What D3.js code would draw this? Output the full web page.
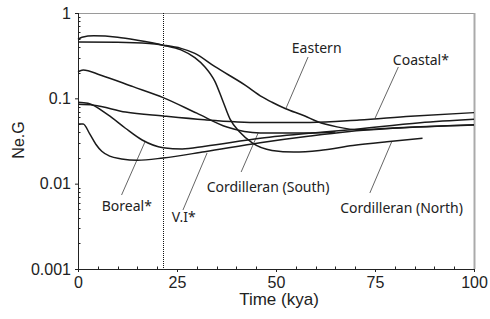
<!DOCTYPE html>
<html>
<head>
<meta charset="utf-8">
<script src="https://cdn.jsdelivr.net/npm/d3@7"></script>
<style>
    body { margin: 0; background: #fff; }
    .tick-label { font-family: 'Liberation Sans', Arial, sans-serif; font-size: 16px; fill: #222; }
    .axis-title { font-family: 'Liberation Sans', Arial, sans-serif; fill: #222; }
    .series-label { font-family: 'Noto Sans', sans-serif; font-size: 14px; fill: #222; }
</style>
</head>
<body>
<div id="ne-chart"></div>
<script>
// data: [time kya, Ne.G]
var timeTicks = [0, 25, 50, 75, 100];
var timeMinorTicks = d3.range(0, 101, 5);
var neTicks = [0.001, 0.01, 0.1, 1];
var lgmTime = 21.5;

var eastern = [[0, 0.457], [10, 0.455], [18, 0.44], [21.5, 0.42], [26, 0.385], [29.5, 0.337],
    [34.6, 0.235], [42.2, 0.143], [46.5, 0.104], [49, 0.09], [52.3, 0.076], [57.3, 0.062],
    [60.4, 0.0535], [65.4, 0.0463], [71, 0.0428], [79.5, 0.045], [90, 0.047], [100, 0.049]];

var cordNorth = [[0, 0.49], [1, 0.52], [4, 0.54], [10, 0.52], [15, 0.48], [21.5, 0.42], [26, 0.37],
    [29.5, 0.30], [32, 0.235], [34.6, 0.157], [36.5, 0.095], [38.4, 0.057], [40.9, 0.040],
    [44, 0.030], [49, 0.0245], [54.5, 0.0235], [61, 0.0245], [69.4, 0.028], [78, 0.031], [87, 0.034]];

var cordSouth = [[0, 0.205], [1.3, 0.215], [5.6, 0.188], [13.9, 0.137], [21.5, 0.102],
    [30, 0.067], [37.6, 0.0461], [46, 0.0393], [58.6, 0.0393], [65, 0.0403]];

var coastal = [[0, 0.085], [4, 0.083], [12, 0.069], [21.5, 0.062], [32, 0.056], [46, 0.052],
    [58.6, 0.052], [71, 0.0557], [84, 0.0617], [100, 0.068]];

var boreal = [[0, 0.0898], [2.5, 0.0875], [7.6, 0.0638], [11.9, 0.0449], [16.2, 0.0325], [21.5, 0.0264],
    [26.3, 0.0255], [32.1, 0.0275], [46, 0.034], [58.6, 0.039], [68, 0.0425], [86.4, 0.0518], [100, 0.0568]];

var vancouverIsland = [[0, 0.050], [1.3, 0.050], [3, 0.038], [4.5, 0.029], [6, 0.024], [8, 0.021],
    [11, 0.0195], [15, 0.0188], [21.5, 0.0200], [32, 0.0237], [46, 0.0302], [58.6, 0.0362],
    [68, 0.0406], [79.5, 0.0445], [100, 0.0487]];

var seriesList = [eastern, cordNorth, cordSouth, coastal, boreal, vancouverIsland];

var labelNames = ['Eastern', 'Coastal*', 'Boreal*', 'V.I*', 'Cordilleran (South)', 'Cordilleran (North)'];

function buildChart(containerId) {
    // size globals
    var width = 490;
    var height = 319;

    var margin = {
        top: 13,
        right: 16,
        bottom: 50,
        left: 78
    };

    var innerWidth = width - margin.left - margin.right;
    var innerHeight = height - margin.top - margin.bottom;

    var svg = d3
        .select(containerId)
        .append('svg')
        .attr('width', width)
        .attr('height', height);

    var g = svg
        .append('g')
        .attr('transform', 'translate(' + margin.left + ',' + margin.top + ')');

    var x = d3.scaleLinear()
        .domain([0, 100])
        .range([0, innerWidth]);

    var y = d3.scaleLog()
        .domain([0.001, 1])
        .range([innerHeight, 0]);

    // label layout, in data units: text start, pointer start, pointer tip
    var labelLayout = [
        { text: [54.0, 0.34], from: [58.1, 0.305], to: [52.5, 0.076] },
        { text: [79.5, 0.246], from: [80.9, 0.233], to: [75.0, 0.0583] },
        { text: [6.0, 0.00478], from: [11.0, 0.00736], to: [16.9, 0.0308] },
        { text: [23.7, 0.00358], from: [26.5, 0.00491], to: [32.6, 0.0229] },
        { text: [32.5, 0.00798], from: [41.2, 0.0137], to: [45.5, 0.0393] },
        { text: [66.2, 0.0045], from: [73.7, 0.00778], to: [79.3, 0.0316] }
    ];

    // frame: grey top and right
    g.append('line')
        .attr('x1', 0)
        .attr('x2', innerWidth)
        .attr('y1', 0.5)
        .attr('y2', 0.5)
        .style('stroke', '#9a9a9a')
        .style('stroke-width', 1);

    g.append('line')
        .attr('x1', innerWidth + 0.5)
        .attr('x2', innerWidth + 0.5)
        .attr('y1', 0)
        .attr('y2', innerHeight)
        .style('stroke', '#aaaaaa')
        .style('stroke-width', 2);

    // minor ticks on log axis, pointing inward
    var yMinor = [];
    neTicks.slice(0, -1).forEach(function (d) {
        for (var k = 2; k < 10; k++) yMinor.push(d * k);
    });

    g.append('g')
        .selectAll('line')
        .data(yMinor)
        .enter()
        .append('line')
        .attr('x1', 0)
        .attr('x2', 2.5)
        .attr('y1', function (d) { return Math.round(y(d)) + 0.5; })
        .attr('y2', function (d) { return Math.round(y(d)) + 0.5; })
        .style('stroke', '#222')
        .style('stroke-width', 1);

    g.append('g')
        .selectAll('line')
        .data(timeMinorTicks.filter(function (d) { return timeTicks.indexOf(d) === -1; }))
        .enter()
        .append('line')
        .attr('x1', function (d) { return Math.round(x(d)) + 0.5; })
        .attr('x2', function (d) { return Math.round(x(d)) + 0.5; })
        .attr('y1', innerHeight)
        .attr('y2', innerHeight - 2.5)
        .style('stroke', '#222')
        .style('stroke-width', 1);

    // y axis
    var yAxis = d3.axisLeft(y)
        .tickValues(neTicks)
        .tickFormat(function (d) { return d === 1 ? '1' : String(d); })
        .tickSize(3)
        .tickPadding(4);

    var yAxisG = g.append('g')
        .call(yAxis);

    // x axis
    var xAxis = d3.axisBottom(x)
        .tickValues(timeTicks)
        .tickSize(3)
        .tickPadding(4);

    var xAxisG = g.append('g')
        .attr('transform', 'translate(0,' + innerHeight + ')')
        .call(xAxis);

    [xAxisG, yAxisG].forEach(function (ax) {
        ax.select('.domain').remove();
        ax.selectAll('.tick line').style('stroke', '#222');
        ax.selectAll('.tick text')
            .attr('class', 'tick-label')
            .attr('font-size', null)
            .attr('font-family', null);
        ax.attr('font-size', null).attr('font-family', null);
    });

    xAxisG.selectAll('.tick text')
        .attr('y', 8)
        .attr('dy', '11px');

    // black axis lines
    g.append('line')
        .attr('x1', 0.5)
        .attr('x2', 0.5)
        .attr('y1', 0)
        .attr('y2', innerHeight)
        .style('stroke', '#222')
        .style('stroke-width', 1);

    g.append('line')
        .attr('x1', 0)
        .attr('x2', innerWidth)
        .attr('y1', innerHeight + 0.5)
        .attr('y2', innerHeight + 0.5)
        .style('stroke', '#222')
        .style('stroke-width', 1);

    // LGM dotted line
    g.append('line')
        .attr('x1', Math.round(x(lgmTime)) + 0.5)
        .attr('x2', Math.round(x(lgmTime)) + 0.5)
        .attr('y1', 0)
        .attr('y2', innerHeight)
        .style('stroke', '#111')
        .style('stroke-width', 1)
        .style('stroke-dasharray', '1,1');

    // curves
    var line = d3.line()
        .x(function (d) { return x(d[0]); })
        .y(function (d) { return y(d[1]); })
        .curve(d3.curveMonotoneX);

    g.append('g')
        .selectAll('path')
        .data(seriesList)
        .enter()
        .append('path')
        .attr('d', line)
        .style('fill', 'none')
        .style('stroke', '#1a1a1a')
        .style('stroke-width', 1.5);

    // labels and pointers
    var labels = g.append('g')
        .selectAll('g')
        .data(labelLayout)
        .enter()
        .append('g');

    labels.append('line')
        .attr('x1', function (d) { return x(d.from[0]); })
        .attr('y1', function (d) { return y(d.from[1]); })
        .attr('x2', function (d) { return x(d.to[0]); })
        .attr('y2', function (d) { return y(d.to[1]); })
        .style('stroke', '#222')
        .style('stroke-width', 0.7);

    labels.append('text')
        .attr('class', 'series-label')
        .attr('x', function (d) { return x(d.text[0]); })
        .attr('y', function (d) { return y(d.text[1]); })
        .text(function (d, i) { return labelNames[i]; });

    // axis titles
    g.append('text')
        .attr('class', 'axis-title')
        .attr('x', innerWidth / 2 + 3)
        .attr('y', innerHeight + 36)
        .attr('text-anchor', 'middle')
        .style('font-size', '17px')
        .text('Time (kya)');

    g.append('text')
        .attr('class', 'axis-title')
        .attr('transform', 'translate(' + (24 - margin.left) + ',' + (140 - margin.top) + ') rotate(-90)')
        .attr('text-anchor', 'middle')
        .style('font-size', '16px')
        .text('Ne.G');
}

buildChart('#ne-chart');
</script>
</body>
</html>
